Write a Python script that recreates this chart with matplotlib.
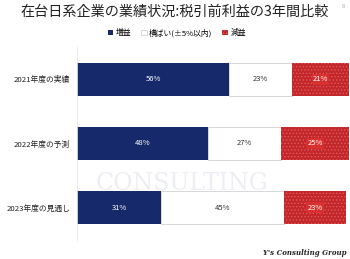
import matplotlib
matplotlib.use('Agg')
import matplotlib.pyplot as plt
import numpy as np

plt.rcParams['font.family'] = ['Noto Sans CJK JP', 'DejaVu Sans']
plt.rcParams['hatch.linewidth'] = 0.6

# -------------------- data -------------------------
categories = ['2021年度の実績', '2022年度の予測', '2023年度の見通し']
increase = [56, 48, 31]
flat = [23, 27, 45]
decrease = [21, 25, 23]
series_names = ['増益', '横ばい(±5%以内)', '減益']

# ---------------------- plotting -----------------------------
fig = plt.figure(figsize=(3.5, 2.59), dpi=100)
ax = fig.add_axes([0.22, 0.075, 0.777, 0.742])

# faint watermark
fig.text(0.52, 0.29, 'CONSULTING', fontsize=17, color='#eceef3', family='DejaVu Serif',
         ha='center', va='center', zorder=0)

navy = '#16296b'
red = '#c3262b'
y = np.arange(len(categories))
h = 0.52

b1 = ax.barh(y, increase, height=h, color=navy, zorder=2)
b2 = ax.barh(y, flat, left=increase, height=h, color='white', edgecolor='#c8c8c8', lw=0.5, zorder=2)
left3 = np.array(increase) + np.array(flat)
b3 = ax.barh(y, decrease, left=left3, height=h, color=red, edgecolor='#de5a5a', hatch='.....', lw=0, zorder=2)

for i in range(len(categories)):
    ax.text(increase[i] / 2, y[i], f'{increase[i]}%', color='white', fontsize=5.5, ha='center', va='center', zorder=3)
    ax.text(increase[i] + flat[i] / 2, y[i], f'{flat[i]}%', color='#333333', fontsize=5.5, ha='center', va='center', zorder=3)
    ax.text(left3[i] + decrease[i] / 2, y[i], f'{decrease[i]}%', color='white', fontsize=5.5, ha='center', va='center', zorder=3,
            bbox=dict(boxstyle='square,pad=0.15', fc='#d8302f', ec='none'))

ax.set_xlim(0, 100)
ax.set_ylim(len(categories) - 0.5, -0.5)
ax.set_yticks(y)
ax.set_yticklabels(categories, fontsize=5.6, color='#222222')
ax.set_xticks([])
ax.tick_params(axis='y', length=0, pad=5)
for s in ['top', 'right', 'bottom']:
    ax.spines[s].set_visible(False)
ax.spines['left'].set_color('#e6e6e6')
ax.spines['left'].set_linewidth(0.6)
ax.patch.set_alpha(0)

# title & legend
fig.text(0.5, 0.953, '在台日系企業の業績状況:税引前利益の3年間比較', fontsize=10.2, ha='center', va='center', color='#222222')
leg = fig.legend([b1, b2, b3], series_names, loc='center', bbox_to_anchor=(0.505, 0.873), ncol=3,
                 fontsize=5.6, frameon=False, handlelength=0.7, handleheight=0.7, handletextpad=0.3,
                 columnspacing=1.3)

fig.text(0.99, 0.022, "Y's Consulting Group", fontsize=5, family='DejaVu Serif', style='italic',
         weight='bold', ha='right', va='center', color='#222222')
fig.text(0.985, 0.975, '8', fontsize=4, color='#aaaaaa', ha='right', va='center')

fig.savefig('out.png', dpi=100)
